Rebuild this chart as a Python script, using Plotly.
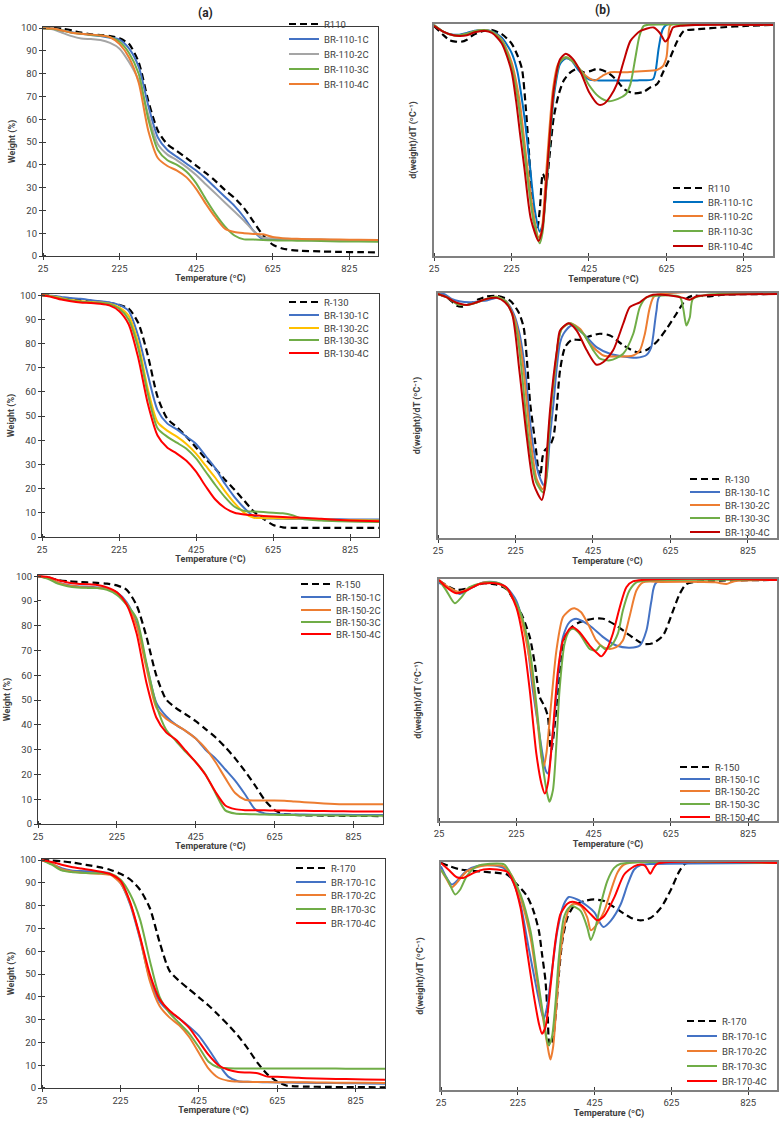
import plotly.graph_objects as go

W, H = 782, 1122

# ---------------- TGA data (weight %, common temperature grid) ----------------
TG_T = [25, 50, 75, 100, 125, 150, 175, 200, 225, 250, 275, 300, 325, 350, 375, 400,
        425, 450, 475, 500, 525, 550, 575, 600, 625, 650, 675, 700, 750, 800, 850, 900]

tga110_R = [100, 100, 99.8, 99, 98, 97.3, 97, 96.5, 95.5, 93, 85, 68, 55, 49, 46, 43,
            39.7, 36.5, 33, 29, 25.5, 21, 15, 9, 5, 3.3, 2.6, 2.3, 2, 1.8, 1.7, 1.6]
tga110_1C = [100, 99.8, 99, 98.2, 97.5, 97, 96.5, 95.8, 95, 91, 83, 66, 52, 46.5, 43.5, 40.5,
             37.5, 34, 30, 26, 22, 17, 11, 7.4, 7.3, 7.2, 7.1, 7, 6.9, 6.8, 6.7, 6.6]
tga110_2C = [100, 99.5, 98, 96.5, 95.5, 95.2, 94.8, 93.5, 91, 85, 77, 62, 49, 44.5, 42, 39,
             35.5, 31.5, 27.5, 23.5, 19.5, 15.5, 11, 8, 7.8, 7.6, 7.5, 7.4, 7.2, 7, 6.9, 6.8]
tga110_3C = [100, 99.7, 99, 98, 97.5, 97, 96.8, 96, 94, 89, 80, 60, 46.5, 42, 40, 37,
             32, 25, 18.5, 13, 9, 7.3, 7.2, 7, 6.9, 6.8, 6.75, 6.7, 6.6, 6.4, 6.35, 6.3]
tga110_4C = [100, 99.8, 99, 98, 97.5, 97.2, 96.8, 96, 93, 87, 76, 55, 43, 39.5, 37.5, 34.5,
             29.5, 23, 17, 12, 10.5, 10, 9.7, 9.5, 8.3, 7.8, 7.6, 7.5, 7.3, 7.2, 7.1, 7]

tga130_R = [100, 99.7, 99, 98.4, 98, 97.7, 97.3, 96.8, 96, 94.5, 88.5, 75, 58, 49, 45.5, 41.5,
            37, 32.3, 28.2, 23.7, 19.5, 15, 10.5, 7.5, 5, 4, 3.8, 3.8, 3.8, 3.8, 3.8, 3.8]
tga130_1C = [100, 99.8, 99.3, 98.8, 98.5, 98, 97.5, 97, 96, 93.5, 83, 67, 52.5, 47, 44.5, 41.5,
             38.5, 33.5, 28.5, 22, 16.5, 12, 8.5, 7.8, 7.6, 7.5, 7.45, 7.4, 7.35, 7.3, 7.25, 7.2]
tga130_2C = [100, 99.6, 98.8, 98, 97.5, 97.2, 97, 96.5, 95, 91.5, 80, 61, 47.5, 44, 41.5, 38.5,
             34.5, 29.5, 24.5, 19, 14, 10, 8, 7.8, 7.8, 7.7, 7.65, 7.6, 7.3, 7, 6.9, 6.8]
tga130_3C = [100, 99.5, 98.5, 97.8, 97.3, 97, 96.8, 96.3, 94.5, 90, 78, 59, 45, 41.5, 39, 36.5,
             32.5, 27, 21.5, 16.5, 12.5, 10.8, 10.5, 10.3, 10, 9.8, 9, 7.5, 6.8, 6.5, 6.3, 6.2]
tga130_4C = [100, 99.3, 98.2, 97.5, 97, 96.8, 96.5, 95.8, 93.5, 88, 74, 55, 42, 37, 34.5, 31.5,
             27, 21, 15.5, 12, 10, 9.3, 9, 8.7, 8.5, 8.3, 8.1, 8, 7.5, 7, 6.7, 6.5]

tga150_R = [100, 99.5, 98.5, 98, 97.7, 97.5, 97.3, 97, 96.3, 94.5, 88.3, 75.6, 60, 50.3, 46.8, 44.2,
            41.5, 38.3, 35, 31, 26.5, 21.3, 15.7, 9.7, 5.6, 4, 3.7, 3.5, 3.4, 3.3, 3.25, 3.2]
tga150_1C = [100, 99.3, 97.5, 96.5, 96, 95.8, 95.5, 95, 93.5, 89.5, 81, 64.5, 49, 43.5, 40, 37.5,
             34.5, 30, 26.5, 22, 17.5, 12, 6, 4.3, 4, 3.9, 3.85, 3.8, 3.75, 3.7, 3.65, 3.6]
tga150_2C = [100, 99.3, 97.5, 96.3, 95.8, 95.5, 95.3, 94.8, 93, 89, 80, 63, 47, 42.5, 40, 37.5,
             34.5, 30.5, 25, 18.5, 12.5, 9.8, 9.5, 9.5, 9.5, 9.4, 9.1, 8.8, 8.3, 8, 8, 8]
tga150_3C = [100, 99, 97, 96, 95.5, 95.3, 95.2, 94.5, 92.5, 88.5, 83, 65, 48, 38, 33.5, 29,
             25, 20, 12.5, 5.5, 4.2, 4, 3.9, 3.8, 3.7, 3.65, 3.6, 3.55, 3.5, 3.4, 3.35, 3.3]
tga150_4C = [100, 99.7, 98.5, 97.5, 97, 96.8, 96.5, 95.5, 93.5, 88.5, 77, 57, 43, 37, 34, 29.5,
             25, 19.8, 13, 7.5, 6, 5.6, 5.5, 5.5, 5.45, 5.4, 5.35, 5.3, 5.2, 5.1, 5.05, 5]

tga170_R = [100, 99.8, 99.5, 99, 98.3, 97.6, 96.8, 95.7, 94, 91.5, 87, 79, 64, 51.5, 47, 43.4,
            39.8, 36.2, 32, 27.7, 22.9, 17.3, 11, 6, 2.8, 1, 0.7, 0.6, 0.5, 0.4, 0.35, 0.3]
tga170_1C = [100, 98.3, 96.5, 95.5, 95.2, 95, 94.8, 94, 90, 80.5, 65.5, 48, 38, 33.5, 30.5, 27,
             23, 17, 10.5, 5, 3, 2.7, 2.6, 2.5, 2.45, 2.4, 2.35, 2.3, 2.2, 2.1, 2, 1.9]
tga170_2C = [100, 98.5, 96, 95, 94.5, 94.2, 94, 93.5, 90, 81, 66, 47, 36, 31, 27.5, 22.5,
             15.5, 8.5, 4.5, 3.2, 2.8, 2.7, 2.65, 2.6, 2.55, 2.5, 2.5, 2.5, 2.4, 2.3, 2.25, 2.2]
tga170_3C = [100, 98, 95.5, 94.8, 94.5, 94.3, 94.2, 94, 91.5, 85, 74, 56, 40, 33, 28.5, 24,
             18, 11.5, 9, 8.7, 8.6, 8.6, 8.6, 8.6, 8.6, 8.6, 8.6, 8.6, 8.55, 8.5, 8.5, 8.5]
tga170_4C = [100, 99.2, 98, 97, 96.3, 95.7, 94.9, 93.8, 91, 81.5, 66.5, 50, 39, 34, 30.5, 26.5,
             20.5, 14.5, 10, 8, 7, 6.8, 6.5, 5, 4.9, 4.7, 4.5, 4.3, 4.1, 3.9, 3.75, 3.6]

# ---------------- DTG data (relative d(weight)/dT, arbitrary units) ----------------
d110_R_T = [25, 50, 65, 80, 95, 110, 125, 150, 175, 200, 225, 240, 252, 262, 272, 282, 290, 298, 306, 315,
            323, 334, 347, 360, 377, 394, 411, 428, 446, 472, 497, 515, 540, 565, 584, 601, 618, 635, 653, 670,
            704, 773, 830, 900]
d110_R_V = [-0.004, -0.045, -0.066, -0.072, -0.073, -0.064, -0.045, -0.027, -0.022, -0.04, -0.08, -0.13, -0.19,
            -0.36, -0.6, -0.84, -0.895, -0.8, -0.644, -0.68, -0.57, -0.4, -0.3, -0.24, -0.205, -0.19, -0.205,
            -0.2, -0.19, -0.205, -0.24, -0.277, -0.296, -0.29, -0.27, -0.256, -0.198, -0.14, -0.07, -0.026,
            -0.019, -0.01, -0.004, 0]
d110_1C_T = [25, 50, 75, 90, 110, 130, 155, 175, 200, 225, 240, 250, 260, 272, 285, 298, 306, 315, 325, 335,
             350, 365, 380, 400, 425, 450, 500, 550, 590, 597, 605, 615, 625, 900]
d110_1C_V = [0, -0.03, -0.042, -0.042, -0.035, -0.025, -0.022, -0.028, -0.055, -0.12, -0.2, -0.3, -0.42, -0.6,
             -0.8, -0.895, -0.86, -0.7, -0.48, -0.3, -0.17, -0.145, -0.155, -0.2, -0.235, -0.24, -0.24, -0.24,
             -0.235, -0.2, -0.1, -0.02, 0, 0]
d110_2C_T = [25, 50, 75, 90, 110, 130, 155, 175, 200, 225, 246, 256, 266, 280, 295, 302, 312, 322, 332, 345,
             365, 385, 405, 425, 441, 460, 480, 520, 560, 600, 615, 625, 630, 636, 900]
d110_2C_V = [0, -0.03, -0.045, -0.045, -0.038, -0.027, -0.022, -0.03, -0.065, -0.16, -0.33, -0.47, -0.615,
             -0.8, -0.92, -0.9, -0.7, -0.47, -0.28, -0.17, -0.14, -0.16, -0.2, -0.23, -0.24, -0.22, -0.205,
             -0.205, -0.2, -0.195, -0.18, -0.14, -0.05, 0, 0]
d110_3C_T = [25, 50, 75, 90, 110, 130, 155, 175, 200, 225, 242, 252, 263, 280, 298, 305, 315, 325, 335, 350,
             365, 385, 405, 425, 450, 475, 500, 520, 532, 545, 555, 566, 575, 900]
d110_3C_V = [0, -0.03, -0.045, -0.045, -0.038, -0.027, -0.022, -0.03, -0.07, -0.18, -0.33, -0.46, -0.615,
             -0.83, -0.945, -0.9, -0.7, -0.47, -0.28, -0.16, -0.14, -0.16, -0.2, -0.26, -0.31, -0.33, -0.32,
             -0.3, -0.256, -0.14, -0.05, -0.005, 0, 0]
d110_4C_T = [25, 50, 75, 90, 110, 130, 155, 175, 200, 225, 237, 247, 258, 275, 295, 305, 315, 325, 335, 350,
             365, 385, 405, 425, 450, 465, 480, 497, 515, 532, 558, 592, 608, 622, 631, 642, 660, 700, 900]
d110_4C_V = [-0.004, -0.03, -0.045, -0.048, -0.045, -0.032, -0.025, -0.035, -0.08, -0.2, -0.33, -0.47, -0.615,
             -0.84, -0.935, -0.88, -0.68, -0.45, -0.27, -0.15, -0.125, -0.15, -0.21, -0.29, -0.345, -0.34,
             -0.31, -0.256, -0.155, -0.069, -0.026, -0.011, -0.035, -0.072, -0.055, -0.011, -0.004, 0, 0]

d130_R_T = [25, 48, 74, 87, 108, 130, 151, 177, 211, 233, 246, 254, 263, 276, 284, 289, 295, 301, 314, 323,
            331, 340, 353, 370, 392, 409, 443, 469, 503, 537, 563, 589, 615, 640, 666, 683, 726, 761, 900]
d130_R_V = [0, -0.014, -0.048, -0.052, -0.04, -0.022, -0.01, -0.008, -0.027, -0.075, -0.136, -0.26, -0.45,
            -0.61, -0.72, -0.75, -0.667, -0.64, -0.62, -0.585, -0.476, -0.313, -0.218, -0.188, -0.188, -0.177,
            -0.163, -0.17, -0.21, -0.238, -0.23, -0.197, -0.143, -0.082, -0.02, -0.007, -0.01, -0.003, 0]
d130_1C_T = [25, 40, 60, 80, 108, 130, 151, 177, 200, 220, 235, 250, 267, 285, 299, 306, 314, 323, 331, 340,
             349, 370, 400, 434, 469, 503, 537, 563, 575, 580, 589, 598, 900]
d130_1C_V = [0, 0, -0.02, -0.03, -0.034, -0.03, -0.027, -0.015, -0.03, -0.08, -0.16, -0.313, -0.585, -0.74,
             -0.786, -0.74, -0.585, -0.45, -0.31, -0.2, -0.163, -0.129, -0.163, -0.218, -0.245, -0.256, -0.261,
             -0.25, -0.22, -0.177, -0.068, -0.007, 0]
d130_2C_T = [25, 50, 75, 100, 125, 150, 177, 200, 220, 232, 246, 263, 280, 295, 303, 310, 318, 327, 335, 344,
             366, 392, 417, 452, 486, 529, 546, 559, 572, 585, 900]
d130_2C_V = [0, -0.015, -0.04, -0.045, -0.035, -0.02, -0.012, -0.03, -0.09, -0.16, -0.313, -0.585, -0.76,
             -0.8, -0.76, -0.585, -0.44, -0.31, -0.2, -0.143, -0.12, -0.143, -0.204, -0.252, -0.256, -0.252,
             -0.231, -0.163, -0.054, -0.007, 0]
d130_3C_T = [25, 50, 75, 100, 125, 150, 177, 200, 218, 230, 241, 258, 278, 297, 304, 310, 318, 327, 335, 344,
             366, 400, 426, 443, 469, 503, 529, 546, 563, 589, 649, 658, 666, 675, 683, 720, 900]
d130_3C_V = [0, -0.015, -0.042, -0.045, -0.035, -0.02, -0.012, -0.03, -0.09, -0.17, -0.313, -0.585, -0.77,
             -0.814, -0.77, -0.6, -0.44, -0.31, -0.2, -0.143, -0.12, -0.163, -0.231, -0.265, -0.272, -0.245,
             -0.163, -0.054, -0.014, -0.007, -0.012, -0.06, -0.129, -0.095, -0.02, -0.003, 0]
d130_4C_T = [25, 48, 65, 82, 100, 125, 151, 177, 198, 216, 235, 254, 272, 293, 300, 306, 314, 323, 332, 340,
             362, 383, 409, 434, 452, 477, 503, 520, 546, 563, 580, 620, 658, 675, 692, 740, 900]
d130_4C_V = [0, -0.014, -0.03, -0.04, -0.045, -0.034, -0.02, -0.016, -0.034, -0.08, -0.313, -0.585, -0.78,
             -0.844, -0.8, -0.653, -0.48, -0.34, -0.23, -0.15, -0.12, -0.15, -0.231, -0.29, -0.279, -0.231,
             -0.122, -0.054, -0.034, -0.014, -0.003, -0.005, -0.016, -0.024, -0.01, -0.004, 0]

d150_R_T = [25, 53, 70, 104, 139, 173, 199, 225, 242, 260, 273, 286, 299, 307, 313, 316, 324, 333, 342, 350,
            368, 389, 424, 450, 484, 519, 553, 579, 605, 631, 648, 665, 691, 900]
d150_R_V = [-0.003, -0.03, -0.041, -0.033, -0.014, -0.019, -0.037, -0.1, -0.154, -0.237, -0.348, -0.486,
            -0.527, -0.568, -0.69, -0.706, -0.61, -0.458, -0.32, -0.237, -0.196, -0.175, -0.161, -0.161,
            -0.189, -0.23, -0.265, -0.262, -0.23, -0.127, -0.058, -0.017, -0.007, 0]
d150_1C_T = [25, 50, 78, 104, 139, 173, 199, 225, 251, 268, 286, 301, 307, 320, 333, 346, 363, 380, 415, 450,
             484, 519, 545, 562, 575, 588, 900]
d150_1C_V = [-0.012, -0.03, -0.058, -0.037, -0.01, -0.01, -0.03, -0.086, -0.237, -0.458, -0.651, -0.789,
             -0.803, -0.637, -0.403, -0.237, -0.175, -0.161, -0.189, -0.237, -0.272, -0.281, -0.272, -0.21,
             -0.086, -0.01, 0]
d150_2C_T = [25, 50, 78, 110, 145, 182, 208, 234, 260, 277, 290, 296, 303, 316, 329, 346, 368, 376, 393, 415,
             432, 450, 467, 484, 501, 518, 536, 553, 600, 740, 769, 790, 900]
d150_2C_V = [0, -0.03, -0.051, -0.028, -0.01, -0.017, -0.051, -0.141, -0.334, -0.541, -0.734, -0.775, -0.72,
             -0.5, -0.292, -0.154, -0.12, -0.117, -0.134, -0.196, -0.251, -0.279, -0.286, -0.279, -0.251,
             -0.154, -0.044, -0.01, -0.008, -0.01, -0.017, -0.005, 0]
d150_3C_T = [25, 44, 66, 83, 104, 147, 182, 204, 234, 260, 277, 294, 307, 311, 320, 329, 337, 350, 363, 374,
             389, 415, 432, 443, 454, 471, 488, 501, 518, 536, 560, 900]
d150_3C_V = [0, -0.044, -0.097, -0.072, -0.03, -0.01, -0.014, -0.044, -0.127, -0.292, -0.513, -0.775, -0.9,
             -0.92, -0.872, -0.679, -0.458, -0.265, -0.21, -0.203, -0.223, -0.286, -0.292, -0.272, -0.286,
             -0.272, -0.223, -0.127, -0.044, -0.01, -0.003, 0]
d150_4C_T = [25, 44, 70, 95, 130, 171, 199, 225, 242, 260, 277, 290, 299, 307, 320, 333, 346, 363, 372, 389,
             415, 436, 445, 458, 475, 493, 510, 527, 900]
d150_4C_V = [0, -0.03, -0.055, -0.045, -0.017, -0.014, -0.03, -0.113, -0.237, -0.458, -0.72, -0.844, -0.886,
             -0.844, -0.623, -0.375, -0.251, -0.203, -0.196, -0.217, -0.272, -0.306, -0.317, -0.292, -0.223,
             -0.113, -0.03, -0.006, 0]

d170_R_T = [25, 48, 75, 101, 136, 171, 197, 223, 249, 266, 280, 288, 297, 303, 308, 314, 323, 332, 341, 354,
            371, 398, 423, 450, 484, 519, 545, 572, 598, 624, 646, 663, 900]
d170_R_V = [0, -0.015, -0.029, -0.034, -0.039, -0.044, -0.051, -0.095, -0.146, -0.212, -0.3, -0.401, -0.518,
            -0.679, -0.803, -0.796, -0.679, -0.489, -0.343, -0.241, -0.19, -0.168, -0.161, -0.168, -0.204,
            -0.241, -0.253, -0.241, -0.197, -0.117, -0.036, -0.002, 0]
d170_1C_T = [25, 40, 53, 66, 92, 118, 153, 188, 210, 232, 253, 275, 288, 293, 301, 314, 328, 345, 358, 380,
             406, 425, 436, 448, 467, 493, 511, 528, 545, 572, 900]
d170_1C_V = [-0.015, -0.066, -0.095, -0.08, -0.034, -0.015, -0.01, -0.022, -0.073, -0.182, -0.372, -0.562,
             -0.664, -0.686, -0.635, -0.474, -0.299, -0.182, -0.15, -0.161, -0.19, -0.219, -0.255, -0.282,
             -0.255, -0.182, -0.095, -0.029, -0.01, -0.005, 0]
d170_2C_T = [25, 40, 53, 66, 92, 127, 153, 188, 210, 232, 258, 275, 293, 306, 310, 317, 326, 336, 349, 362,
             371, 389, 406, 415, 428, 450, 467, 484, 502, 900]
d170_2C_V = [-0.03, -0.073, -0.107, -0.088, -0.037, -0.015, -0.01, -0.015, -0.058, -0.153, -0.328, -0.518,
             -0.708, -0.839, -0.866, -0.81, -0.62, -0.401, -0.255, -0.19, -0.18, -0.19, -0.241, -0.296, -0.277,
             -0.212, -0.124, -0.044, -0.007, 0]
d170_3C_T = [25, 44, 62, 75, 92, 118, 153, 190, 205, 232, 258, 275, 293, 301, 306, 314, 323, 332, 345, 358,
             367, 389, 406, 415, 425, 441, 458, 476, 493, 900]
d170_3C_V = [-0.03, -0.08, -0.139, -0.117, -0.058, -0.015, -0.004, -0.007, -0.044, -0.139, -0.299, -0.489,
             -0.693, -0.781, -0.803, -0.766, -0.62, -0.416, -0.241, -0.197, -0.19, -0.212, -0.285, -0.339,
             -0.299, -0.182, -0.08, -0.022, -0.004, 0]
d170_4C_T = [25, 44, 66, 83, 110, 136, 171, 197, 214, 232, 249, 266, 280, 288, 297, 310, 323, 336, 354, 367,
             389, 415, 432, 450, 476, 502, 528, 545, 556, 563, 570, 579, 589, 900]
d170_4C_V = [0, -0.029, -0.063, -0.066, -0.044, -0.029, -0.029, -0.039, -0.088, -0.197, -0.387, -0.577,
             -0.708, -0.752, -0.723, -0.547, -0.343, -0.226, -0.18, -0.171, -0.185, -0.226, -0.253, -0.234,
             -0.153, -0.051, -0.015, -0.007, -0.012, -0.029, -0.048, -0.022, -0.003, 0]

# ---------------- labels ----------------
X_TICKS = [25, 225, 425, 625, 825]
Y_TICKS = [0, 10, 20, 30, 40, 50, 60, 70, 80, 90, 100]
X_TITLE = "<b>Temperature (ºC)</b>"
TGA_TITLE = "<b>Weight (%)</b>"
DTG_TITLE = "<b>d(weight)/dT (ºC⁻¹)</b>"

# ---------------- styling ----------------
BLACK = "#000000"
BLUE = "#4472C4"
BLUE2 = "#0070C0"
ORANGE = "#ED7D31"
GRAY = "#A5A5A5"
GREEN = "#70AD47"
YELLOW = "#FFC000"
RED = "#FF0000"
DKRED = "#C00000"
DASH = "7px,4px"
FONT = "Roboto"
TXT = "#404040"
AX_TGA = "#3A3A3A"
AX_DTG = "#808080"


def px(x):
    return x / W


def py(y):
    return 1 - y / H


def cross_ticks(vals, color):
    # inner half of Excel-style "cross" tick marks (outer half is the major tick)
    return dict(tickmode="array", tickvals=[v + 0.01 for v in vals], ticks="inside",
                ticklen=3, tickcolor=color, tickwidth=1, showgrid=False)


# panel geometry in pixels (x0, x1, ytop, ybottom) and legend positions
panels = [
    dict(kind="tga", box=(43, 378, 27, 256), leg_x=284, leg_y=[24, 39, 54, 69, 84],
         series=[("R110", TG_T, tga110_R, BLACK, DASH), ("BR-110-1C", TG_T, tga110_1C, BLUE, None),
                 ("BR-110-2C", TG_T, tga110_2C, GRAY, None), ("BR-110-3C", TG_T, tga110_3C, GREEN, None),
                 ("BR-110-4C", TG_T, tga110_4C, ORANGE, None)]),
    dict(kind="dtg", box=(434, 773, 24, 256), leg_x=668, leg_y=[188, 202, 216, 231, 246],
         series=[("R110", d110_R_T, d110_R_V, BLACK, DASH), ("BR-110-1C", d110_1C_T, d110_1C_V, BLUE2, None),
                 ("BR-110-2C", d110_2C_T, d110_2C_V, ORANGE, None), ("BR-110-3C", d110_3C_T, d110_3C_V, GREEN, None),
                 ("BR-110-4C", d110_4C_T, d110_4C_V, DKRED, None)]),
    dict(kind="tga", box=(42, 379, 294, 537), leg_x=284, leg_y=[302, 315, 328, 340, 353],
         series=[("R-130", TG_T, tga130_R, BLACK, DASH), ("BR-130-1C", TG_T, tga130_1C, BLUE, None),
                 ("BR-130-2C", TG_T, tga130_2C, YELLOW, None), ("BR-130-3C", TG_T, tga130_3C, GREEN, None),
                 ("BR-130-4C", TG_T, tga130_4C, RED, None)]),
    dict(kind="dtg", box=(438, 777, 293, 538), leg_x=685, leg_y=[479, 492, 505, 518, 532],
         series=[("R-130", d130_R_T, d130_R_V, BLACK, DASH), ("BR-130-1C", d130_1C_T, d130_1C_V, BLUE, None),
                 ("BR-130-2C", d130_2C_T, d130_2C_V, ORANGE, None), ("BR-130-3C", d130_3C_T, d130_3C_V, GREEN, None),
                 ("BR-130-4C", d130_4C_T, d130_4C_V, DKRED, None)]),
    dict(kind="tga", box=(38, 383, 575, 824), leg_x=296, leg_y=[584, 597, 610, 622, 634],
         series=[("R-150", TG_T, tga150_R, BLACK, DASH), ("BR-150-1C", TG_T, tga150_1C, BLUE, None),
                 ("BR-150-2C", TG_T, tga150_2C, ORANGE, None), ("BR-150-3C", TG_T, tga150_3C, GREEN, None),
                 ("BR-150-4C", TG_T, tga150_4C, RED, None)]),
    dict(kind="dtg", box=(439, 777, 579, 821), leg_x=675, leg_y=[767, 779, 791, 804, 817],
         series=[("R-150", d150_R_T, d150_R_V, BLACK, DASH), ("BR-150-1C", d150_1C_T, d150_1C_V, BLUE, None),
                 ("BR-150-2C", d150_2C_T, d150_2C_V, ORANGE, None), ("BR-150-3C", d150_3C_T, d150_3C_V, GREEN, None),
                 ("BR-150-4C", d150_4C_T, d150_4C_V, RED, None)]),
    dict(kind="tga", box=(42, 385, 859, 1088), leg_x=291, leg_y=[868, 882, 895, 909, 923],
         series=[("R-170", TG_T, tga170_R, BLACK, DASH), ("BR-170-1C", TG_T, tga170_1C, BLUE, None),
                 ("BR-170-2C", TG_T, tga170_2C, ORANGE, None), ("BR-170-3C", TG_T, tga170_3C, GREEN, None),
                 ("BR-170-4C", TG_T, tga170_4C, RED, None)]),
    dict(kind="dtg", box=(441, 777, 862, 1090), leg_x=682, leg_y=[1021, 1036, 1051, 1066, 1081],
         series=[("R-170", d170_R_T, d170_R_V, BLACK, DASH), ("BR-170-1C", d170_1C_T, d170_1C_V, BLUE, None),
                 ("BR-170-2C", d170_2C_T, d170_2C_V, ORANGE, None), ("BR-170-3C", d170_3C_T, d170_3C_V, GREEN, None),
                 ("BR-170-4C", d170_4C_T, d170_4C_V, RED, None)]),
]

fig = go.Figure()
layout = {}
leg_n = 0
for i, p in enumerate(panels, start=1):
    xk = "xaxis" if i == 1 else f"xaxis{i}"
    yk = "yaxis" if i == 1 else f"yaxis{i}"
    xr = "x" if i == 1 else f"x{i}"
    yr = "y" if i == 1 else f"y{i}"
    x0, x1, yt, yb = p["box"]
    axc = AX_TGA if p["kind"] == "tga" else AX_DTG
    axw = 1.2 if p["kind"] == "tga" else 1.8
    layout[xk] = dict(
        domain=[px(x0), px(x1)], anchor=yr, range=[25, 900], tickmode="array", tickvals=X_TICKS,
        ticks="outside", ticklen=3, tickcolor=AX_TGA, tickwidth=1, showline=True, linecolor=axc,
        linewidth=axw, mirror=True, showgrid=False, zeroline=False,
        minor=cross_ticks(X_TICKS, AX_TGA),
        tickfont=dict(family=FONT, size=9.5, color=TXT),
        title=dict(text=X_TITLE, font=dict(family=FONT, size=9, color=TXT), standoff=1),
    )
    if p["kind"] == "tga":
        layout[yk] = dict(
            domain=[py(yb), py(yt)], anchor=xr, range=[0, 100.5], tickmode="array", tickvals=Y_TICKS,
            ticks="outside", ticklen=3, tickcolor=AX_TGA, tickwidth=1, showline=True, linecolor=axc,
            linewidth=axw, mirror=True, showgrid=False, zeroline=False,
            minor=cross_ticks(Y_TICKS, AX_TGA),
            tickfont=dict(family=FONT, size=9.5, color=TXT),
            title=dict(text=TGA_TITLE, font=dict(family=FONT, size=9, color=TXT), standoff=3),
        )
    else:
        layout[yk] = dict(
            domain=[py(yb), py(yt)], anchor=xr, range=[-1.0, 0.004], ticks="", showticklabels=False,
            showline=True, linecolor=axc, linewidth=axw, mirror=True, showgrid=False, zeroline=False,
            title=dict(text=DTG_TITLE, font=dict(family=FONT, size=9, color=TXT), standoff=14),
        )
    for (name, tx, vy, color, dash), ly in zip(p["series"], p["leg_y"]):
        leg_n += 1
        lid = "legend" if leg_n == 1 else f"legend{leg_n}"
        fig.add_trace(go.Scatter(
            x=tx, y=vy, name=name, mode="lines", xaxis=xr, yaxis=yr, legend=lid,
            line=dict(color=color, width=2.2 if dash else 2, dash=dash or "solid", shape="spline", smoothing=0.7),
        ))
        layout[lid] = dict(x=px(p["leg_x"]), y=py(ly), xanchor="left", yanchor="middle",
                           bgcolor="rgba(0,0,0,0)", borderwidth=0, itemwidth=30,
                           font=dict(family=FONT, size=9.5, color=TXT))

fig.update_layout(layout)
fig.update_layout(
    width=W, height=H, margin=dict(l=0, r=0, t=0, b=0), template="none",
    paper_bgcolor="white", plot_bgcolor="white", showlegend=True,
    font=dict(family=FONT, size=9.5, color=TXT),
    annotations=[
        dict(text="<b>(a)</b>", x=px(205), y=py(13), xref="paper", yref="paper", showarrow=False,
             xanchor="center", yanchor="middle", font=dict(family=FONT, size=12, color="#262626")),
        dict(text="<b>(b)</b>", x=px(602), y=py(10), xref="paper", yref="paper", showarrow=False,
             xanchor="center", yanchor="middle", font=dict(family=FONT, size=12, color="#262626")),
    ],
)

fig.write_html("out.html", config={"displayModeBar": False},
               post_script="document.body.style.margin='0';document.body.style.overflow='hidden';")
